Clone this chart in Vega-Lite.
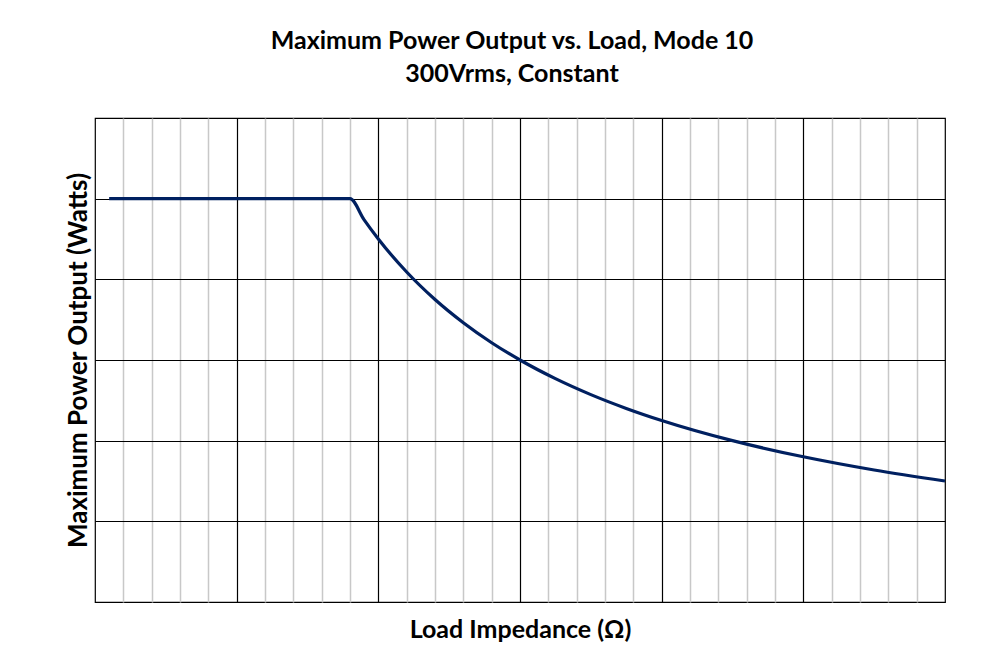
{
  "$schema": "https://vega.github.io/schema/vega-lite/v6.json",
  "width": 850,
  "height": 484,
  "autosize": {"type": "none"},
  "padding": {"left": 95, "top": 118, "right": 57, "bottom": 66},
  "background": "white",
  "title": {
    "text": ["Maximum Power Output vs. Load, Mode 10", "300Vrms, Constant"],
    "anchor": "middle",
    "font": "Lato",
    "fontSize": 25,
    "fontWeight": "bold",
    "color": "black",
    "lineHeight": 33,
    "offset": 31,
    "dx": -8
  },
  "config": {
    "view": {"stroke": "black", "strokeWidth": 1.2},
    "axis": {
      "labels": false,
      "ticks": false,
      "domain": false,
      "titleFont": "Lato",
      "titleFontSize": 25,
      "titleFontWeight": "bold",
      "titleColor": "black"
    }
  },
  "data": {
    "values": [
      {"z": 0.1, "p": 5.0},
      {"z": 1.8, "p": 5.0},
      {"z": 1.9, "p": 4.737},
      {"z": 2.0, "p": 4.5},
      {"z": 2.2, "p": 4.091},
      {"z": 2.4, "p": 3.75},
      {"z": 2.6, "p": 3.462},
      {"z": 2.8, "p": 3.214},
      {"z": 3.0, "p": 3.0},
      {"z": 3.25, "p": 2.769},
      {"z": 3.5, "p": 2.571},
      {"z": 3.75, "p": 2.4},
      {"z": 4.0, "p": 2.25},
      {"z": 4.5, "p": 2.0},
      {"z": 5.0, "p": 1.8},
      {"z": 5.5, "p": 1.636},
      {"z": 6.0, "p": 1.5}
    ]
  },
  "mark": {"type": "line", "color": "#002060", "strokeWidth": 3.2, "interpolate": "monotone"},
  "encoding": {
    "x": {
      "field": "z",
      "type": "quantitative",
      "scale": {"domain": [0, 6], "nice": false, "zero": false},
      "axis": {
        "title": "Load Impedance (Ω)",
        "titlePadding": 15,
        "values": [0.2, 0.4, 0.6, 0.8, 1.2, 1.4, 1.6, 1.8, 2.2, 2.4, 2.6, 2.8, 3.2, 3.4, 3.6, 3.8, 4.2, 4.4, 4.6, 4.8, 5.2, 5.4, 5.6, 5.8, 1, 2, 3, 4, 5],
        "grid": true,
        "gridColor": {"condition": {"test": "datum.value % 1 === 0", "value": "black"}, "value": "#c8c8c8"},
        "gridWidth": {"condition": {"test": "datum.value % 1 === 0", "value": 1.2}, "value": 1.5},
        "gridOpacity": 1
      }
    },
    "y": {
      "field": "p",
      "type": "quantitative",
      "scale": {"domain": [0, 6], "nice": false, "zero": false},
      "axis": {
        "title": "Maximum Power Output (Watts)",
        "titleFontSize": 26,
        "titlePadding": 4,
        "values": [1, 2, 3, 4, 5],
        "grid": true,
        "gridColor": "black",
        "gridWidth": 1.2,
        "gridOpacity": 1
      }
    }
  }
}
